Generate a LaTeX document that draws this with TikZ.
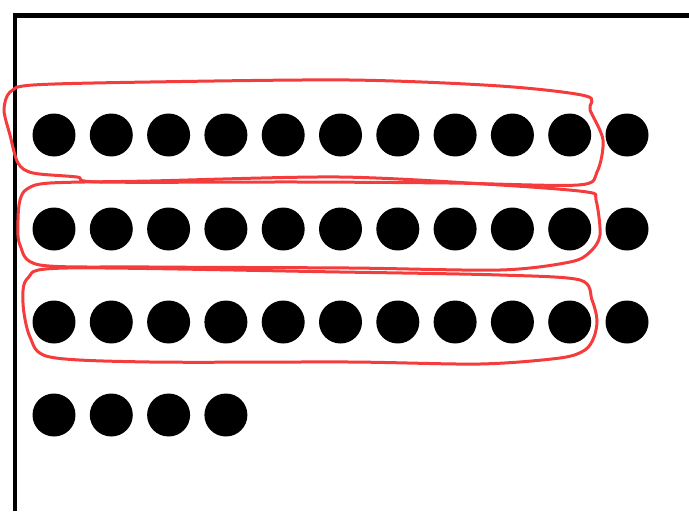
\documentclass[tikz,border=0pt]{standalone}
\usetikzlibrary{positioning}
\definecolor{loopred}{RGB}{245,60,60}

\begin{document}
\begin{tikzpicture}[x=0.02cm, y=-0.02cm,
        dot/.style={draw=none, circle, fill=black, minimum size=0.86cm, inner sep=0pt},
        frameline/.style={line width=0.1cm},
        group/.style={draw=loopred, line width=0.06cm, line join=round}]
        \useasboundingbox (0,0) rectangle (689,511);
        % frame
        \draw[frameline] (15,511) -- (15,15) -- (689,15);
        % dots
        \foreach \r/\n/\y in {1/11/135, 2/11/229, 3/11/322, 4/4/415}
            \foreach \c in {1,...,\n}
                \node[dot] (d\r-\c) at ({54+57.3*(\c-1)},\y) {};
        % groups of ten
        \draw[group] plot[smooth cycle, tension=0.5] coordinates {
            (33,85) (150,82) (350,80) (500,86) (586,96) (590,110) (603,140)
            (597,172) (578,185) (450,183) (300,182) (100,182) (77,177) (33,173)
            (18,163) (10,135) (4,110) (10,92)};
        \draw[group] plot[smooth cycle, tension=0.5] coordinates {
            (50,183) (150,181) (340,177) (500,185) (587,192) (596,200)
            (600,235) (590,252) (570,262) (500,270) (350,268) (150,267)
            (40,265) (20,245) (18,220) (20,200) (27,189)};
        \draw[group] plot[smooth cycle, tension=0.5] coordinates {
            (67,268) (340,272) (500,275) (580,280) (592,300) (597,320)
            (594,337) (585,350) (560,358) (480,364) (350,362) (150,362)
            (50,357) (30,337) (23,303) (28,278)};
\end{tikzpicture}
\end{document}
